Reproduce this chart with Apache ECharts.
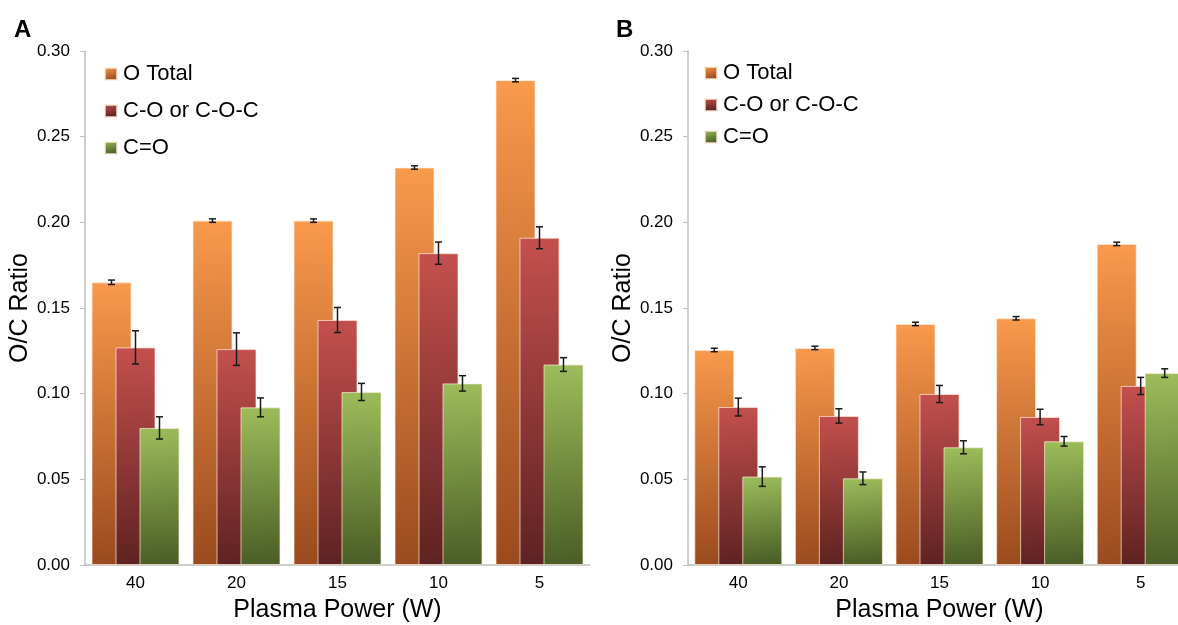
<!DOCTYPE html>
<html>
<head>
<meta charset="utf-8">
<script src="https://cdn.jsdelivr.net/npm/echarts@6/dist/echarts.min.js"></script>
<style>
  html, body { margin: 0; padding: 0; background: #fff; }
  #chart { width: 1178px; height: 625px; }
</style>
</head>
<body>
<div id="chart"></div>
<script>
// O/C ratio vs plasma power, two panels (A, B) with error bars.
const categories = ['40', '20', '15', '10', '5'];
const seriesNames = ['O Total', 'C-O or C-O-C', 'C=O'];
const yTicks = { min: 0, max: 0.3, interval: 0.05 };

// Panel A
const aTotal = [0.165, 0.201, 0.201, 0.232, 0.283];
const aTotalErr = [0.0013, 0.001, 0.001, 0.001, 0.001];
const aCO = [0.127, 0.126, 0.143, 0.182, 0.191];
const aCOErr = [0.0097, 0.0095, 0.0073, 0.0065, 0.0064];
const aCdO = [0.080, 0.092, 0.101, 0.106, 0.117];
const aCdOErr = [0.0065, 0.0055, 0.005, 0.0045, 0.004];

// Panel B
const bTotal = [0.1255, 0.1267, 0.1407, 0.1440, 0.1874];
const bTotalErr = [0.001, 0.001, 0.001, 0.001, 0.001];
const bCO = [0.0922, 0.0870, 0.0998, 0.0864, 0.1045];
const bCOErr = [0.0052, 0.0042, 0.005, 0.0045, 0.005];
const bCdO = [0.0516, 0.0506, 0.0687, 0.0722, 0.1120];
const bCdOErr = [0.0057, 0.0037, 0.0038, 0.0028, 0.0025];

const FONT = 'Liberation Sans, Arial, sans-serif';
const AXIS_GRAY = '#BFBFBF';
const BAR_W = 40;
const BAR_STEP = 24; // 40px bars, -16px gap

const grad = (top, bottom) => new echarts.graphic.LinearGradient(0, 0, 0.25, 1, [
  { offset: 0, color: top }, { offset: 1, color: bottom },
]);
const FILLS = [
  grad('#F99A4C', '#9A4A1E'),
  grad('#C4504E', '#5E2222'),
  grad('#9DBD5B', '#4A5E26'),
];

const panels = [
  { vals: [aTotal, aCO, aCdO], errs: [aTotalErr, aCOErr, aCdOErr] },
  { vals: [bTotal, bCO, bCdO], errs: [bTotalErr, bCOErr, bCdOErr] },
];

const series = [];
panels.forEach((p, gi) => {
  p.vals.forEach((v, si) => {
    series.push({
      name: seriesNames[si], type: 'bar', xAxisIndex: gi, yAxisIndex: gi,
      data: v, barWidth: BAR_W, barGap: '-40%',
      itemStyle: { color: FILLS[si], borderColor: 'rgba(255,235,220,0.7)', borderWidth: 1 },
      z: 2 + si,
    });
  });
  p.vals.forEach((v, si) => {
    series.push({
      type: 'custom', xAxisIndex: gi, yAxisIndex: gi, z: 10,
      data: v.map((val, i) => [i, val, p.errs[si][i]]),
      renderItem: (params, api) => {
        const i = api.value(0), val = api.value(1), e = api.value(2);
        const x = api.coord([i, val])[0] + (si - 1) * BAR_STEP;
        const hi = api.coord([i, val + e])[1];
        const lo = api.coord([i, val - e])[1];
        const st = { stroke: '#1a1a1a', lineWidth: 1.5 };
        return {
          type: 'group', children: [
            { type: 'line', shape: { x1: x, y1: hi, x2: x, y2: lo }, style: st },
            { type: 'line', shape: { x1: x - 3.5, y1: hi, x2: x + 3.5, y2: hi }, style: st },
            { type: 'line', shape: { x1: x - 3.5, y1: lo, x2: x + 3.5, y2: lo }, style: st },
          ],
        };
      },
    });
  });
});

const xAxis = (gi) => ({
  type: 'category', gridIndex: gi, data: categories,
  axisLine: { lineStyle: { color: AXIS_GRAY, width: 1.5 } },
  axisTick: { show: false },
  axisLabel: { color: '#000', fontSize: 17, fontFamily: FONT, margin: 10 },
  name: 'Plasma Power (W)', nameLocation: 'middle', nameGap: 33,
  nameTextStyle: { color: '#000', fontSize: 25, fontFamily: FONT },
});
const yAxis = (gi) => ({
  type: 'value', gridIndex: gi, ...yTicks,
  axisLine: { show: true, lineStyle: { color: AXIS_GRAY, width: 1.5 } },
  axisTick: { show: true, length: 5, lineStyle: { color: AXIS_GRAY } },
  splitLine: { show: false },
  axisLabel: { color: '#000', fontSize: 17, fontFamily: FONT, margin: 15, formatter: v => v.toFixed(2) },
  name: 'O/C Ratio', nameLocation: 'middle', nameGap: gi ? 51 : 49,
  nameTextStyle: { color: '#000', fontSize: 25, fontFamily: FONT },
});

const legend = (left, top, gap) => ({
  orient: 'vertical', left, top, itemGap: gap, itemWidth: 12, itemHeight: 12,
  icon: 'rect', data: seriesNames, selectedMode: false,
  textStyle: { color: '#000', fontSize: 22, fontFamily: FONT, padding: [0, 0, 0, 1] },
});

const chart = echarts.init(document.getElementById('chart'));
chart.setOption({
  animation: false,
  grid: [
    { left: 85, top: 51, width: 505, height: 514, outerBoundsMode: 'none' },
    { left: 688, top: 51, width: 503, height: 514, outerBoundsMode: 'none' },
  ],
  xAxis: [xAxis(0), xAxis(1)],
  yAxis: [yAxis(0), yAxis(1)],
  legend: [legend(99, 58, 15), legend(699, 57, 10)],
  title: [
    { text: 'A', left: 9, top: 13, textStyle: { fontSize: 24, fontWeight: 'bold', fontFamily: FONT, color: '#000' } },
    { text: 'B', left: 611, top: 13, textStyle: { fontSize: 24, fontWeight: 'bold', fontFamily: FONT, color: '#000' } },
  ],
  series,
});
</script>
</body>
</html>
